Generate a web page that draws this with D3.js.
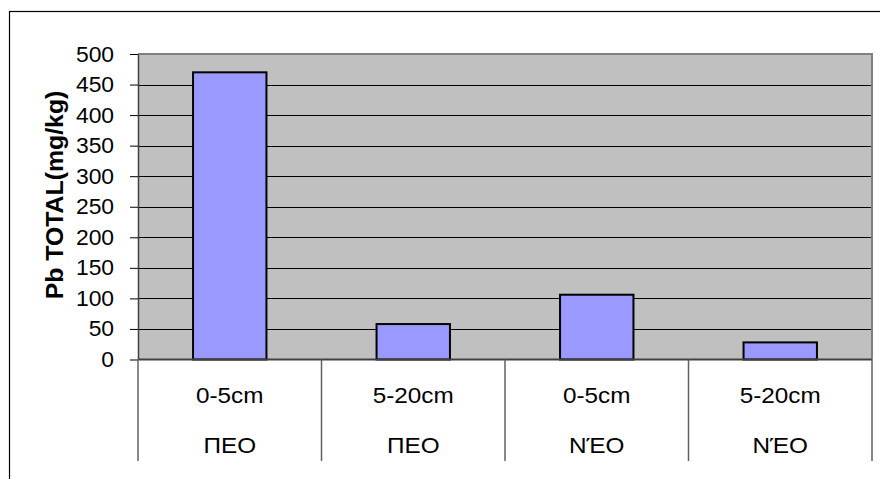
<!DOCTYPE html>
<html><head><meta charset="utf-8">
<script src="https://cdn.jsdelivr.net/npm/d3@7"></script>
<style>
html,body{margin:0;padding:0;background:#fff;}
svg{display:block;}
text{font-family:"Liberation Sans",Arial,sans-serif;fill:#000;}
</style></head><body>
<svg id="c" width="880" height="479"></svg>
<script>
const depths = ["0-5cm","5-20cm","0-5cm","5-20cm"];
const sites = ["ΠΕΟ","ΠΕΟ","ΝΈΟ","ΝΈΟ"];
const values = [470, 58, 106, 28];
const yTicks = [0,50,100,150,200,250,300,350,400,450,500];
const yTitle = "Pb TOTAL(mg/kg)";

const svg = d3.select("#c");
const pL = 138, pR = 872, pT = 54, pB = 359.5;
const idx = d3.range(values.length);

// outer chart border (extends beyond view at right/bottom)
svg.append("rect").attr("x",9.5).attr("y",11.5).attr("width",900).attr("height",500)
  .attr("fill","#fff").attr("stroke","#000").attr("stroke-width",1.2);

const y = d3.scaleLinear().domain([0,500]).range([pB, pT]);
const xCat = d3.scaleBand().domain(idx).range([pL, pR]).padding(0);
const xBar = d3.scaleBand().domain(idx).range([pL, pR]).paddingInner(0.6).paddingOuter(0.3);

// plot area
svg.append("rect").attr("x",pL).attr("y",pT).attr("width",pR-pL).attr("height",pB-pT)
  .attr("fill","#C0C0C0");
// gridlines
svg.append("g").selectAll("line").data(yTicks.filter(d=>d>0)).join("line")
  .attr("x1",pL).attr("x2",pR).attr("y1",d=>Math.round(y(d))+0.5).attr("y2",d=>Math.round(y(d))+0.5)
  .attr("stroke","#000").attr("stroke-width",1);
// plot border top/right gray
svg.append("path").attr("d",`M${pL},${pT}H${pR}V${pB}`).attr("fill","none")
  .attr("stroke","#808080").attr("stroke-width",2);

// bars
svg.append("g").selectAll("rect").data(idx).join("rect")
  .attr("x",i=>xBar(i)).attr("width",xBar.bandwidth())
  .attr("y",i=>y(values[i])).attr("height",i=>y(0)-y(values[i]))
  .attr("fill","#9999FF").attr("stroke","#000").attr("stroke-width",2);

// zero line
svg.append("line").attr("x1",pL).attr("x2",pR).attr("y1",pB).attr("y2",pB)
  .attr("stroke","#404040").attr("stroke-width",2);

// y axis
const yAxis = d3.axisLeft(y).tickValues(yTicks).tickSize(8).tickPadding(15).tickSizeOuter(0);
const ga = svg.append("g").attr("transform",`translate(${pL},0)`).call(yAxis);
ga.select(".domain").attr("stroke","#404040").attr("stroke-width",1.5);
ga.selectAll(".tick line").attr("stroke","#000");
ga.selectAll(".tick text").style("font-size","22px").attr("fill","#000")
  .style("font-family",'"Liberation Sans",Arial,sans-serif')
  .attr("transform","scale(1.04,1)");

// category dividers
const bounds = idx.map(i=>xCat(i)).concat([pR]);
svg.append("g").selectAll("line").data(bounds).join("line")
  .attr("x1",d=>d).attr("x2",d=>d).attr("y1",pB).attr("y2",461)
  .attr("stroke","#606060").attr("stroke-width",1.5);

// category labels (slightly wide-stretched like the reference)
svg.append("g").selectAll("text").data(idx).join("text")
  .attr("transform",i=>`translate(${xCat(i)+xCat.bandwidth()/2},403) scale(1.13,1)`)
  .attr("text-anchor","middle").style("font-size","21.5px").text(i=>depths[i]);
svg.append("g").selectAll("text").data(idx).join("text")
  .attr("transform",i=>`translate(${xCat(i)+xCat.bandwidth()/2},453) scale(1.13,1)`)
  .attr("text-anchor","middle").style("font-size","21.5px").text(i=>sites[i]);

// y title
svg.append("text").attr("transform","translate(63,195) rotate(-90) scale(1.08,1)")
  .attr("text-anchor","middle").style("font-size","23px").style("font-weight","bold").text(yTitle);
</script>
</body></html>
